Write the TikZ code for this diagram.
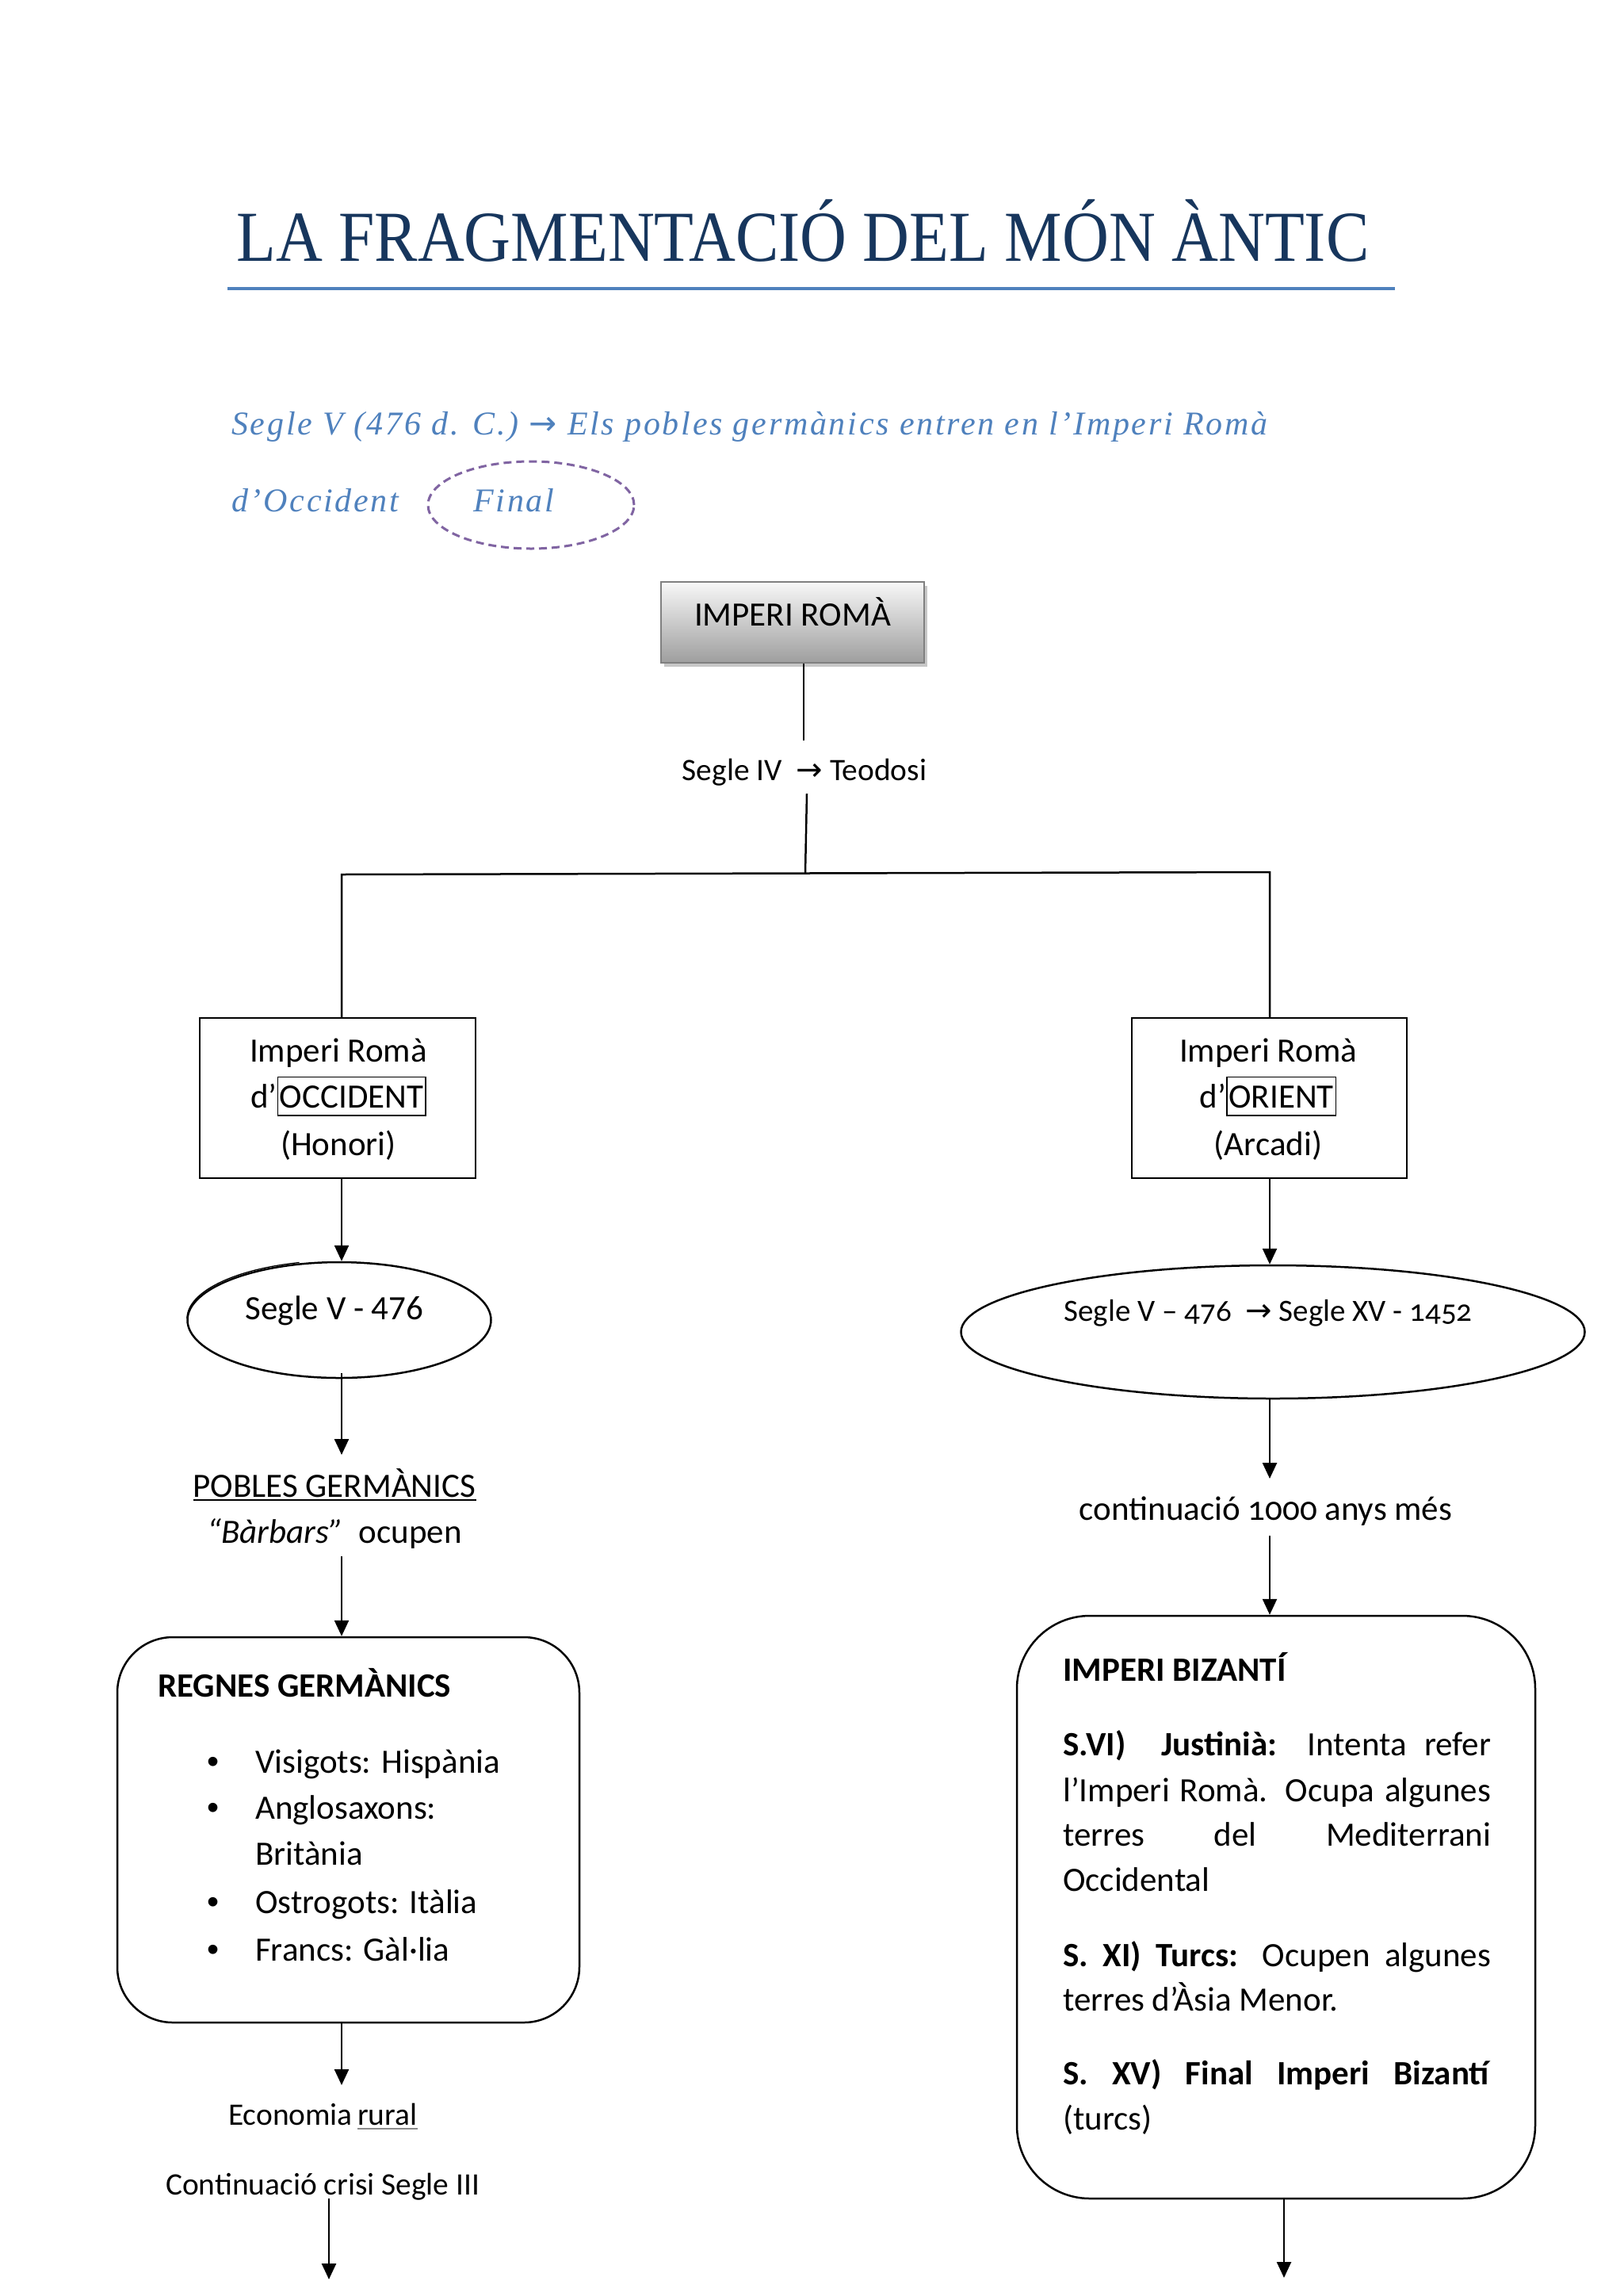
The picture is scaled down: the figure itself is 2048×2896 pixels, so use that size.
\documentclass[tikz,border=0pt]{standalone}
\usepackage{fontspec}
\setmainfont{Carlito}
\newfontfamily\titlef[FakeStretch=0.9]{Liberation Serif}
\newfontfamily\subf[LetterSpace=6.5]{Liberation Serif}
\newfontfamily\osf[Numbers=OldStyle]{Carlito}
\newfontfamily\arrf{DejaVu Sans}
\newfontfamily\bulf{Liberation Sans}
\usetikzlibrary{shapes.geometric,arrows.meta,shadows}
\newcommand\fs[1]{\fontsize{#1}{#1}\selectfont}
\definecolor{titleblue}{HTML}{17365D}
\definecolor{accent}{HTML}{4F81BD}
\definecolor{purp}{HTML}{8064A2}
\tikzset{
  txt/.style={inner sep=0pt, anchor=base},
  txtl/.style={inner sep=0pt, anchor=base west},
  conn/.style={line width=2.5pt},
  arr/.style={line width=2.5pt, -{Triangle[width=18pt,length=20pt]}},
  boxr/.style={draw, line width=2.5pt, inner sep=0pt},
  big/.style={font=\fs{43}},
  small/.style={font=\fs{39.4}},
  subt/.style={txtl, text=accent, font=\subf\itshape\fs{42}},
}
\newcommand\arw{{\arrf\fontsize{40}{40}\selectfont →}}
\newcommand\sarw{{\arrf\fontsize{42}{42}\selectfont →}}
\begin{document}
\begin{tikzpicture}[x=1pt,y=-1pt]
\useasboundingbox (0,0) rectangle (2048,2896);
\fill[white] (0,0) rectangle (2048,2896);

% title
\node[txtl, text=titleblue, font=\titlef\fs{90.6}] (title) at (298,329) {LA FRAGMENTACIÓ DEL MÓN ÀNTIC};
\coordinate (rl) at (287,364); \coordinate (rr) at (1760,364);
\draw[accent, line width=3.5pt] (rl) -- (rr);

% subtitle
\node[subt] (sub1) at (292,548) {Segle V (476 d. C.) \sarw{} Els pobles germànics entren en l’Imperi Romà};
\node[subt] (sub2) at (292,645) {d’Occident};
\node[ellipse, draw=purp, dash pattern=on 10pt off 6pt, line width=3pt, minimum width=260pt, minimum height=110pt, inner sep=0pt] (fin) at (670,637) {};
\node[subt] (fintxt) at (597,645) {Final};

% Imperi Roma box
\node[draw=black!50, line width=2pt, top color=black!3, bottom color=black!38, minimum width=332pt, minimum height=102pt, inner sep=0pt,
      drop shadow={shadow xshift=4pt, shadow yshift=-5pt, fill=black!22, opacity=1}] (roma) at (1000,785) {};
\node[txt, big] (romat) at (1000,789) {IMPERI ROMÀ};

\coordinate (r1) at (1014,934);
\draw[conn] (roma.south -| r1) -- (r1);
\node[txt, small] (teod) at (1015,984) {Segle IV\ \ \arw\ Teodosi};
\coordinate (r2) at (1018,1001);
\coordinate (jc) at (1016,1101);
\draw[conn] (r2) -- (jc);

% boxes
\node[boxr, minimum width=348pt, minimum height=202pt] (lbox) at (426,1385) {};
\node[boxr, minimum width=347pt, minimum height=202pt] (rbox) at (1601.5,1385) {};
\coordinate (jl) at (431,1103);
\coordinate (jr) at (1602,1100);
\draw[conn] (jl |- lbox.north) -- (jl) -- (jr) -- (jr |- rbox.north);

\begingroup
\fboxsep=2pt \fboxrule=1.5pt
\node[txt, big] (l1) at (427,1339) {Imperi Romà};
\node[txt, big] (l2) at (427,1397) {d’\fbox{\vphantom{Ág}OCCIDENT}};
\node[txt, big] (l3) at (427,1457) {(Honori)};
\node[txt, big, font=\osf\fs{43}] (q1) at (1600,1339) {Imperi Romà};
\node[txt, big, font=\osf\fs{43}] (q2) at (1600,1397) {d’\fbox{\vphantom{Ág}ORIENT}};
\node[txt, big, font=\osf\fs{43}] (q3) at (1600,1457) {(Arcadi)};
\endgroup

% left column
\node[ellipse, draw, line width=2.5pt, minimum width=383pt, minimum height=146pt, inner sep=0pt] (e1) at (428,1665) {};
\draw[line width=1.3pt] (236,1663) arc[start angle=180, end angle=255, x radius=191, y radius=73];
\node[txt, big] (e1t) at (422,1664) {Segle V - 476};
\draw[arr] (lbox.south -| jl) -- (jl |- e1.north);
\coordinate (a2) at (431,1835);
\draw[arr] ([yshift=7pt]e1.south -| a2) -- (a2);
\node[txt, big] (pobles) at (422,1888) {POBLES GERMÀNICS};
\draw[line width=1.5pt] ([yshift=-4pt]pobles.base west) -- ([yshift=-4pt]pobles.base east);
\node[txt, big] (barb) at (422,1946) {\textit{“Bàrbars”}\ \ ocupen};
\coordinate (a3) at (431,1963);
\node[boxr, rounded corners=70pt, minimum width=583pt, minimum height=486pt] (lrbox) at (439.5,2308) {};
\draw[arr] (a3) -- (a3 |- lrbox.north);
\node[txtl, font=\bfseries\fs{43}] (regnes) at (199,2140) {REGNES GERMÀNICS};
\node[txt, font=\bulf\fs{43}] (bu1) at (269,2236) {•};
\node[txt, font=\bulf\fs{43}] (bu2) at (269,2294) {•};
\node[txt, font=\bulf\fs{43}] (bu3) at (269,2413) {•};
\node[txt, font=\bulf\fs{43}] (bu4) at (269,2473) {•};
\node[txtl, big] (it1) at (322,2236) {Visigots: Hispània};
\node[txtl, big] (it2) at (322,2294) {Anglosaxons:};
\node[txtl, big] (it2b) at (322,2352) {Britània};
\node[txtl, big] (it3) at (322,2413) {Ostrogots: Itàlia};
\node[txtl, big] (it4) at (322,2473) {Francs: Gàl·lia};
\coordinate (a4) at (431,2630);
\draw[arr] (lrbox.south -| a4) -- (a4);
\node[txtl, small] (econ) at (288,2680) {Economia};
\node[txtl, small] (rural) at (451,2680) {rural};
\draw[black!45, line width=1.5pt] ([yshift=-5pt]rural.base west) -- ([yshift=-5pt]rural.base east);
\node[txtl, small] (crisi) at (209,2768) {Continuació crisi Segle III};
\coordinate (a5) at (415,2773);
\coordinate (a6) at (415,2875);
\draw[arr] (a5) -- (a6);

% right column
\node[ellipse, draw, line width=2.5pt, minimum width=787pt, minimum height=168pt, inner sep=0pt] (e2) at (1606,1680) {};
\node[txt, font=\osf\fs{39}] (e2t) at (1600,1666) {Segle V – 476\ \ \arw\ Segle XV - 1452};
\draw[arr] (rbox.south -| jr) -- (jr |- e2.north);
\coordinate (b2) at (1602,1865);
\draw[arr] (e2.south -| b2) -- (b2);
\node[txt, font=\osf\fs{43}] (cont) at (1597,1917) {continuació 1000 anys més};
\coordinate (b3) at (1602,1937);
\node[boxr, rounded corners=92pt, minimum width=654pt, minimum height=735pt] (rrbox) at (1610,2405.5) {};
\draw[arr] (b3) -- (b3 |- rrbox.north);
\node[txtl, font=\bfseries\fs{43}] (biz) at (1341,2120) {IMPERI BIZANTÍ};
\node[txtl, big] (p1) at (1341,2214) {\makebox[540pt][s]{\textbf{S.VI)}\ \ \textbf{Justinià:} Intenta refer}};
\node[txtl, big] (p2) at (1341,2272) {\makebox[540pt][s]{l’Imperi Romà. Ocupa algunes}};
\node[txtl, big] (p3) at (1341,2328) {\makebox[540pt][s]{terres del Mediterrani}};
\node[txtl, big] (p4) at (1341,2385) {Occidental};
\node[txtl, big] (p5) at (1341,2480) {\makebox[540pt][s]{\textbf{S. XI) Turcs:} Ocupen algunes}};
\node[txtl, big] (p6) at (1341,2536) {terres d’Àsia Menor.};
\node[txtl, big] (p7) at (1341,2629) {\makebox[540pt][s]{\textbf{S. XV) Final Imperi Bizantí}}};
\node[txtl, big] (p8) at (1341,2686) {(turcs)};
\coordinate (b4) at (1620,2873);
\draw[arr] (rrbox.south -| b4) -- (b4);
\end{tikzpicture}
\end{document}
